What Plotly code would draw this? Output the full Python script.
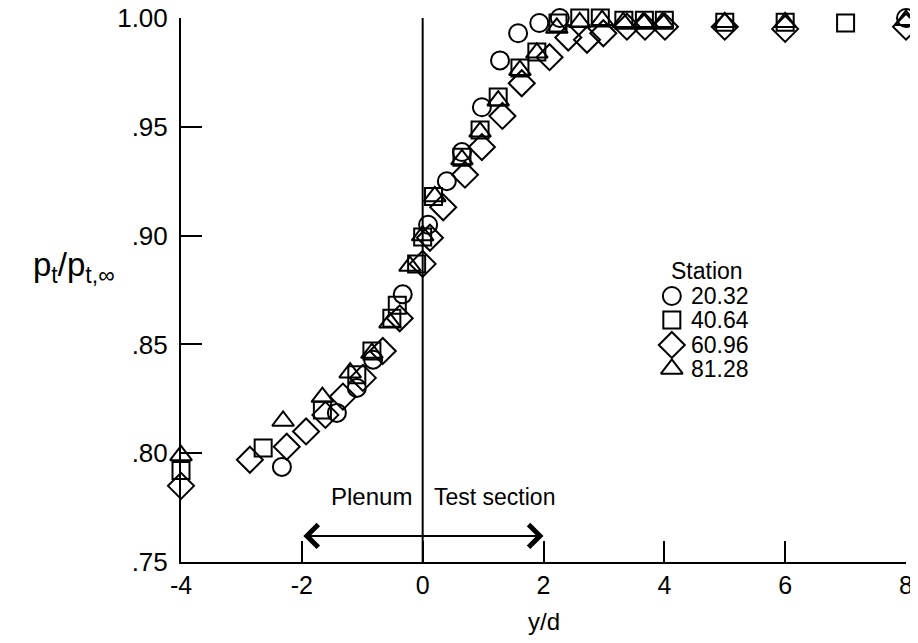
import plotly.graph_objects as go

# ---- data ----
station_names = ["20.32", "40.64", "60.96", "81.28"]

x_2032 = [-2.33, -1.42, -1.09, -0.82, -0.33, 0.09, 0.40, 0.65, 0.98, 1.28, 1.58, 1.93, 2.27, 2.58, 2.91, 3.07, 4.06, 6.03, 8.0]
y_2032 = [0.7937, 0.8185, 0.830, 0.843, 0.873, 0.905, 0.925, 0.9384, 0.959, 0.9805, 0.993, 0.9977, 1.0, 1.002, 1.002, 1.001, 1.005, 1.002, 1.0]

x_4064 = [-4.0, -2.64, -1.66, -1.09, -0.84, -0.51, -0.42, -0.10, 0.0, 0.18, 0.65, 0.95, 1.25, 1.61, 1.89, 2.24, 2.60, 2.94, 3.33, 3.67, 4.0, 5.0, 6.0, 7.0]
y_4064 = [0.792, 0.8024, 0.8199, 0.836, 0.847, 0.862, 0.868, 0.887, 0.8994, 0.918, 0.936, 0.9485, 0.9637, 0.977, 0.9844, 0.9977, 1.0, 1.0, 0.999, 0.999, 0.999, 0.998, 0.998, 0.9977]

x_6096 = [-4.0, -2.86, -2.25, -1.93, -1.61, -1.32, -0.99, -0.66, -0.38, 0.0, 0.12, 0.34, 0.70, 0.98, 1.32, 1.64, 2.10, 2.41, 2.72, 2.99, 3.38, 3.68, 4.01, 5.0, 6.0, 8.0]
y_6096 = [0.785, 0.797, 0.803, 0.810, 0.8176, 0.826, 0.8346, 0.847, 0.862, 0.887, 0.899, 0.913, 0.928, 0.9407, 0.955, 0.970, 0.982, 0.991, 0.990, 0.993, 0.996, 0.996, 0.996, 0.996, 0.995, 0.996]

x_8128 = [-4.0, -2.31, -1.66, -1.20, -0.84, -0.54, -0.21, 0.0, 0.20, 0.65, 0.95, 1.25, 1.61, 1.89, 2.22, 2.60, 2.97, 3.32, 3.65, 3.97, 5.0, 6.0, 8.0]
y_8128 = [0.799, 0.8148, 0.8258, 0.837, 0.846, 0.860, 0.886, 0.900, 0.918, 0.935, 0.9477, 0.962, 0.976, 0.984, 0.9954, 0.998, 0.999, 0.998, 0.998, 0.998, 0.998, 0.998, 0.999]

x_tick_vals = [-4, -2, 0, 2, 4, 6, 8]
x_tick_text = ["-4", "-2", "0", "2", "4", "6", "8"]
y_tick_vals = [0.75, 0.80, 0.85, 0.90, 0.95, 1.00]
y_tick_text = [".75", ".80", ".85", ".90", ".95", "1.00"]

FONT = "Liberation Sans, Arial, Helvetica, sans-serif"

symbols = ["circle-open", "square-open", "diamond-open", "triangle-up-open"]
sizes = [18, 17, 20, 19]
xs_all = [x_2032, x_4064, x_6096, x_8128]
ys_all = [y_2032, y_4064, y_6096, y_8128]

fig = go.Figure()
for xs, ys, name, sym, sz in zip(xs_all, ys_all, station_names, symbols, sizes):
    fig.add_trace(go.Scatter(
        x=xs, y=ys, mode="markers", name=name, cliponaxis=False, showlegend=False,
        marker=dict(symbol=sym, size=sz, color="black", line=dict(color="black", width=2)),
    ))

# hand-placed legend (overlay axes in paper-like units)
leg_x = 0.677
leg_y = [0.489, 0.445, 0.399, 0.355]
for name, sym, sz, ly in zip(station_names, symbols, sizes, leg_y):
    fig.add_trace(go.Scatter(
        x=[leg_x], y=[ly], xaxis="x2", yaxis="y2", mode="markers", showlegend=False,
        cliponaxis=False, hoverinfo="skip",
        marker=dict(symbol=sym, size=sz, color="black", line=dict(color="black", width=2)),
    ))
    fig.add_annotation(x=0.700, y=ly, xref="paper", yref="paper", text=name, showarrow=False,
                       xanchor="left", yanchor="middle", font=dict(size=23, color="black", family=FONT))
fig.add_annotation(x=0.725, y=0.535, xref="paper", yref="paper", text="Station", showarrow=False,
                   xanchor="center", yanchor="middle", font=dict(size=23, color="black", family=FONT))

# vertical line at y/d = 0
fig.add_shape(type="line", x0=0, x1=0, y0=0.75, y1=1.0, xref="x", yref="y",
              line=dict(color="black", width=2))

# double arrow
fig.add_annotation(x=2, y=0.762, ax=-2, ay=0.762, xref="x", yref="y", axref="x", ayref="y",
                   text="", showarrow=True, arrowhead=4, startarrowhead=4, arrowside="end+start",
                   arrowsize=2.2, startarrowsize=2.2, arrowwidth=2, arrowcolor="black")
fig.add_annotation(x=-0.15, y=0.780, xref="x", yref="y", text="Plenum", showarrow=False,
                   xanchor="right", yanchor="middle", font=dict(size=24, color="black", family=FONT))
fig.add_annotation(x=0.15, y=0.780, xref="x", yref="y", text="Test section", showarrow=False,
                   xanchor="left", yanchor="middle", font=dict(size=23, color="black", family=FONT))

# axis titles
fig.add_annotation(x=-0.148, y=0.542, xref="paper", yref="paper",
                   text="p<sub>t</sub>/p<sub>t,∞</sub>", showarrow=False,
                   xanchor="center", yanchor="middle", font=dict(size=33, color="black", family=FONT))
fig.add_annotation(x=0.5, y=-0.11, xref="paper", yref="paper", text="y/d", showarrow=False,
                   xanchor="center", yanchor="middle", font=dict(size=24, color="black", family=FONT))

# The page body adds an 8px margin; margins put the plot area where the reference has it.
fig.update_layout(
    xaxis=dict(range=[-4, 8], tickvals=x_tick_vals, ticktext=x_tick_text, ticks="inside",
               ticklen=21, tickwidth=2, tickcolor="black", showline=True, linecolor="black",
               linewidth=2, showgrid=False, zeroline=False, automargin=False,
               ticklabeloverflow="allow",
               tickfont=dict(size=25, color="black", family=FONT)),
    yaxis=dict(range=[0.75, 1.0], tickvals=y_tick_vals, ticktext=y_tick_text, ticks="inside",
               ticklen=21, tickwidth=2, tickcolor="black", showline=True, linecolor="black",
               linewidth=2, showgrid=False, zeroline=False, automargin=False,
               ticklabelstandoff=6, ticklabeloverflow="allow",
               tickfont=dict(size=26, color="black", family=FONT)),
    xaxis2=dict(range=[0, 1], overlaying="x", visible=False, automargin=False),
    yaxis2=dict(range=[0, 1], overlaying="y", visible=False, automargin=False),
    width=910, height=627,
    margin=dict(l=173, r=12, t=10, b=73),
    paper_bgcolor="white", plot_bgcolor="white",
    font=dict(family=FONT, color="black"),
    showlegend=False,
)

fig.write_html("out.html")
